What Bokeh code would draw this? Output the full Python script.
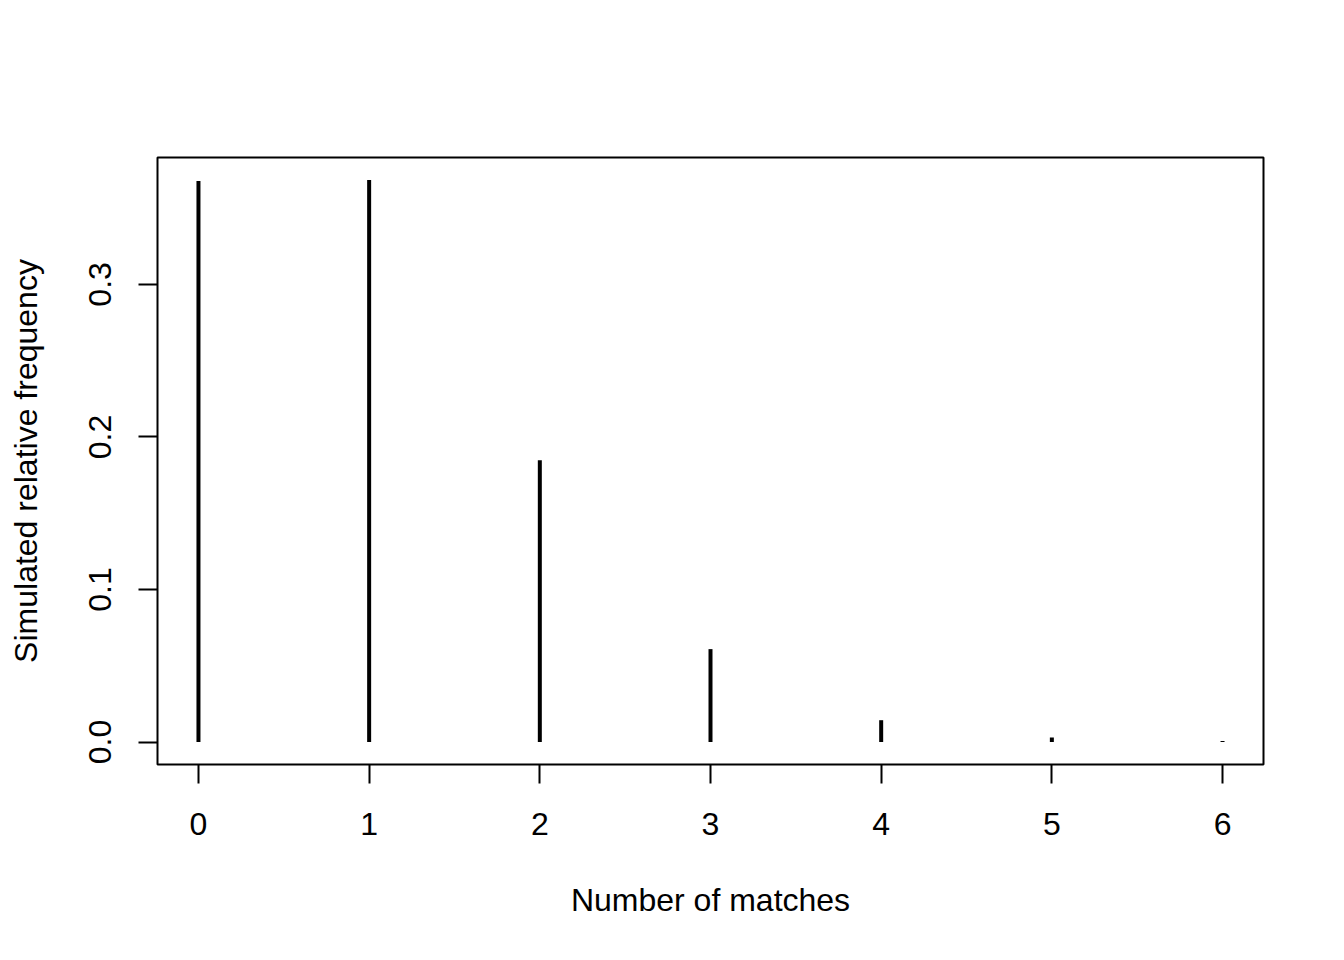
from bokeh.plotting import figure
from bokeh.models import Range1d, FixedTicker
from bokeh.embed import file_html
from bokeh.resources import INLINE

matches = [0, 1, 2, 3, 4, 5, 6]
rel_freq = [0.3678, 0.3685, 0.1847, 0.0609, 0.0143, 0.0030, 0.0006]
x_ticks = [0, 1, 2, 3, 4, 5, 6]
y_ticks = [0.0, 0.1, 0.2, 0.3]

FONT = "Liberation Sans"

p = figure(width=1328, height=944, output_backend="svg", toolbar_location=None,
           x_range=Range1d(-0.24, 6.24), y_range=Range1d(-0.01474, 0.3832),
           min_border_left=157, min_border_right=65, min_border_top=157, min_border_bottom=180)

p.segment(x0=matches, y0=[0]*len(matches), x1=matches, y1=rel_freq,
          line_color="black", line_width=4, line_cap="butt")

p.xgrid.visible = False
p.ygrid.visible = False
p.outline_line_color = "black"
p.outline_line_width = 2
p.background_fill_color = "white"
p.border_fill_color = "white"

p.xaxis.ticker = FixedTicker(ticks=x_ticks)
p.yaxis.ticker = FixedTicker(ticks=y_ticks)
p.yaxis.major_label_overrides = {0.0: "0.0", 0.1: "0.1", 0.2: "0.2", 0.3: "0.3"}
p.yaxis.major_label_orientation = "vertical"

for ax in (p.xaxis[0], p.yaxis[0]):
    ax.axis_line_color = None
    ax.major_tick_line_color = "black"
    ax.major_tick_line_width = 2
    ax.major_tick_out = 19
    ax.major_tick_in = 0
    ax.minor_tick_line_color = None
    ax.major_label_text_font = FONT
    ax.major_label_text_font_size = "32px"
    ax.major_label_text_color = "black"
    ax.axis_label_text_font = FONT
    ax.axis_label_text_font_size = "32px"
    ax.axis_label_text_font_style = "normal"
    ax.axis_label_text_color = "black"

p.xaxis.axis_label = "Number of matches"
p.yaxis.axis_label = "Simulated relative frequency"
p.xaxis.major_label_standoff = 29
p.xaxis.axis_label_standoff = 44
p.yaxis.major_label_standoff = 27
p.yaxis.axis_label_standoff = 43

open("out.html", "w").write(file_html(p, INLINE))
